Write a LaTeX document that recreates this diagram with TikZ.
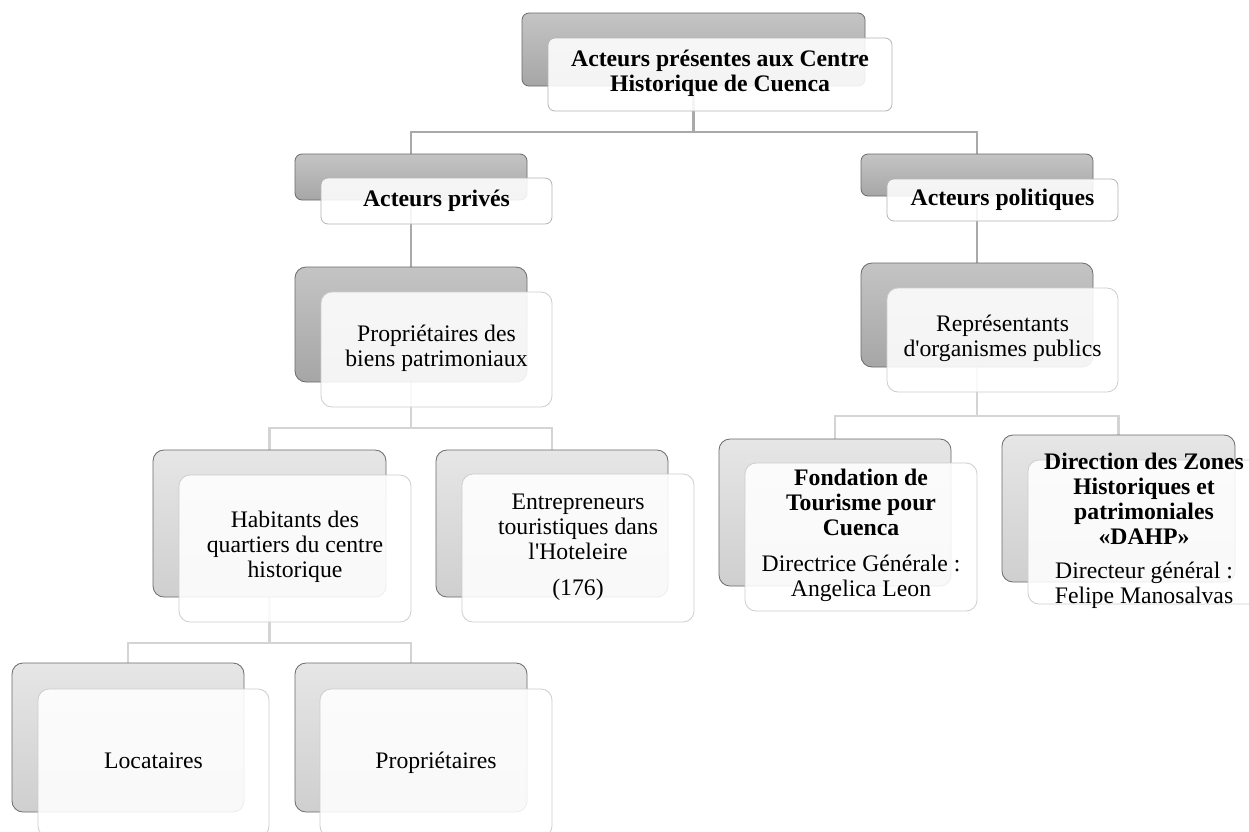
\documentclass[tikz,border=0pt]{standalone}
\usepackage{fontspec}
\setmainfont{Liberation Serif}
\usetikzlibrary{backgrounds}
\definecolor{gA1}{HTML}{C4C4C4}
\definecolor{gA2}{HTML}{A6A6A6}
\definecolor{gB1}{HTML}{E6E6E6}
\definecolor{gB2}{HTML}{CFCFCF}
\definecolor{bordD}{HTML}{6A6A6A}
\definecolor{bordL}{HTML}{B5B5B5}
\definecolor{bordLL}{HTML}{CDCDCD}
\definecolor{lineA}{HTML}{A9A9A9}
\definecolor{lineB}{HTML}{D4D4D4}
\tikzset{
  box/.style={anchor=north west, inner sep=0pt, outer sep=0pt, line width=0.8pt},
  backA/.style={box, draw=bordD, rounded corners=7pt, top color=gA1, bottom color=gA2},
  backB/.style={box, draw=bordD, rounded corners=11pt, top color=gB1, bottom color=gB2},
  frontA/.style={box, draw=bordL, fill=white, fill opacity=0.88, rounded corners=7pt},
  frontB/.style={box, draw=bordLL, fill=white, fill opacity=0.88, rounded corners=11pt},
  lbl/.style={align=center, inner sep=0pt, text opacity=1, font=\fontsize{23.7pt}{25pt}\selectfont,
    execute at begin node=\strut, execute at end node=\strut},
  lblb/.style={lbl, font=\fontsize{23.7pt}{25pt}\selectfont\bfseries},
  connA/.style={draw=lineA, line width=2.2pt},
  connB/.style={draw=lineB, line width=2.6pt},
}
\begin{document}
\begin{tikzpicture}[x=1pt,y=-1pt]
\useasboundingbox (0,0) rectangle (1249,831);
% level 0
\node[backA, minimum width=343pt, minimum height=73pt] (b0) at (522,13) {};
\node[frontA, minimum width=344pt, minimum height=73pt] (f0) at (548,38) {};
\node[lblb] (t0) at (f0.center) {Acteurs présentes aux Centre\\Historique de Cuenca};
% level 1
\node[backA, minimum width=232pt, minimum height=46pt] (bpriv) at (295,154) {};
\node[frontA, minimum width=231pt, minimum height=46pt] (fpriv) at (321,178) {};
\node[lblb] (tpriv) at (fpriv.center) {Acteurs privés};
\node[backA, minimum width=232pt, minimum height=42pt] (bpol) at (861,154) {};
\node[frontA, minimum width=231pt, minimum height=42pt] (fpol) at (887,179) {};
\node[lblb] (tpol) at (fpol.center) {Acteurs politiques};
% level 2
\node[backA, rounded corners=11pt, minimum width=232pt, minimum height=115pt] (bprop) at (295,267) {};
\node[frontB, minimum width=231pt, minimum height=115pt] (fprop) at (321,292) {};
\node[lbl] (tprop) at (fprop.center) {Propriétaires des\\biens patrimoniaux};
\node[backA, rounded corners=11pt, minimum width=232pt, minimum height=104pt] (brep) at (861,263) {};
\node[frontB, minimum width=231pt, minimum height=104pt] (frep) at (887,288) {};
\node[lbl] (trep) at (frep.center) {Représentants\\d\textquotesingle organismes publics};
% level 3 left
\node[backB, minimum width=233pt, minimum height=147pt] (bhab) at (153,450) {};
\node[frontB, minimum width=232pt, minimum height=147pt] (fhab) at (179,475) {};
\node[lbl] (thab) at (fhab.center) {Habitants des\\quartiers du centre\\historique};
\node[backB, minimum width=232pt, minimum height=147pt] (bent) at (436,450) {};
\node[frontB, minimum width=232pt, minimum height=148pt] (fent) at (462,474) {};
\node[lbl] (tent) at (fent.center) {Entrepreneurs\\touristiques dans\\l\textquotesingle Hoteleire\\[11pt](176)};
% level 3 right
\node[backB, minimum width=232pt, minimum height=147pt] (bfon) at (719,439) {};
\node[frontB, minimum width=232pt, minimum height=148pt] (ffon) at (745,463) {};
\node[lbl] (tfon) at (ffon.center) {\textbf{Fondation de}\\\textbf{Tourisme pour}\\\textbf{Cuenca}\\[11pt]Directrice Générale :\\Angelica Leon};
\node[backB, minimum width=233pt, minimum height=147pt] (bdir) at (1002,435) {};
\node[frontB, minimum width=232pt, minimum height=144pt] (fdir) at (1028,460) {};
\node[lbl] (tdir) at (fdir.center) {\textbf{Direction des Zones}\\\textbf{Historiques et}\\\textbf{patrimoniales}\\\textbf{«DAHP»}\\[9pt]Directeur général :\\Felipe Manosalvas};
% level 4
\node[backB, minimum width=232pt, minimum height=149pt] (bloc) at (12,663) {};
\node[frontB, minimum width=231pt, minimum height=148pt] (floc) at (38,689) {};
\node[lbl] (tloc) at (floc.center) {Locataires};
\node[backB, minimum width=232pt, minimum height=149pt] (bpro) at (295,663) {};
\node[frontB, minimum width=232pt, minimum height=148pt] (fpro) at (320,689) {};
\node[lbl] (tpro) at (fpro.center) {Propriétaires};
% tee levels
\coordinate (y0) at (0,132);
\coordinate (yL2) at (0,428);
\coordinate (yL3) at (0,643);
\coordinate (yR2) at (0,416);
\begin{scope}[on background layer]
\fill[white] (0,0) rectangle (1249,831);
\draw[connA] (b0.south) -- (b0.south |- y0) -| (bpriv.north);
\draw[connA] (b0.south |- y0) -| (bpol.north);
\draw[connA] (bpriv.south) -- (bprop.north);
\draw[connA] (bpol.south) -- (brep.north);
\draw[connB] (bprop.south) -- (bprop.south |- yL2) -| (bhab.north);
\draw[connB] (bprop.south |- yL2) -| (bent.north);
\draw[connB] (brep.south) -- (brep.south |- yR2) -| (bfon.north);
\draw[connB] (brep.south |- yR2) -| (bdir.north);
\draw[connB] (bhab.south) -- (bhab.south |- yL3) -| (bloc.north);
\draw[connB] (bhab.south |- yL3) -| (bpro.north);
\end{scope}
\end{tikzpicture}
\end{document}
